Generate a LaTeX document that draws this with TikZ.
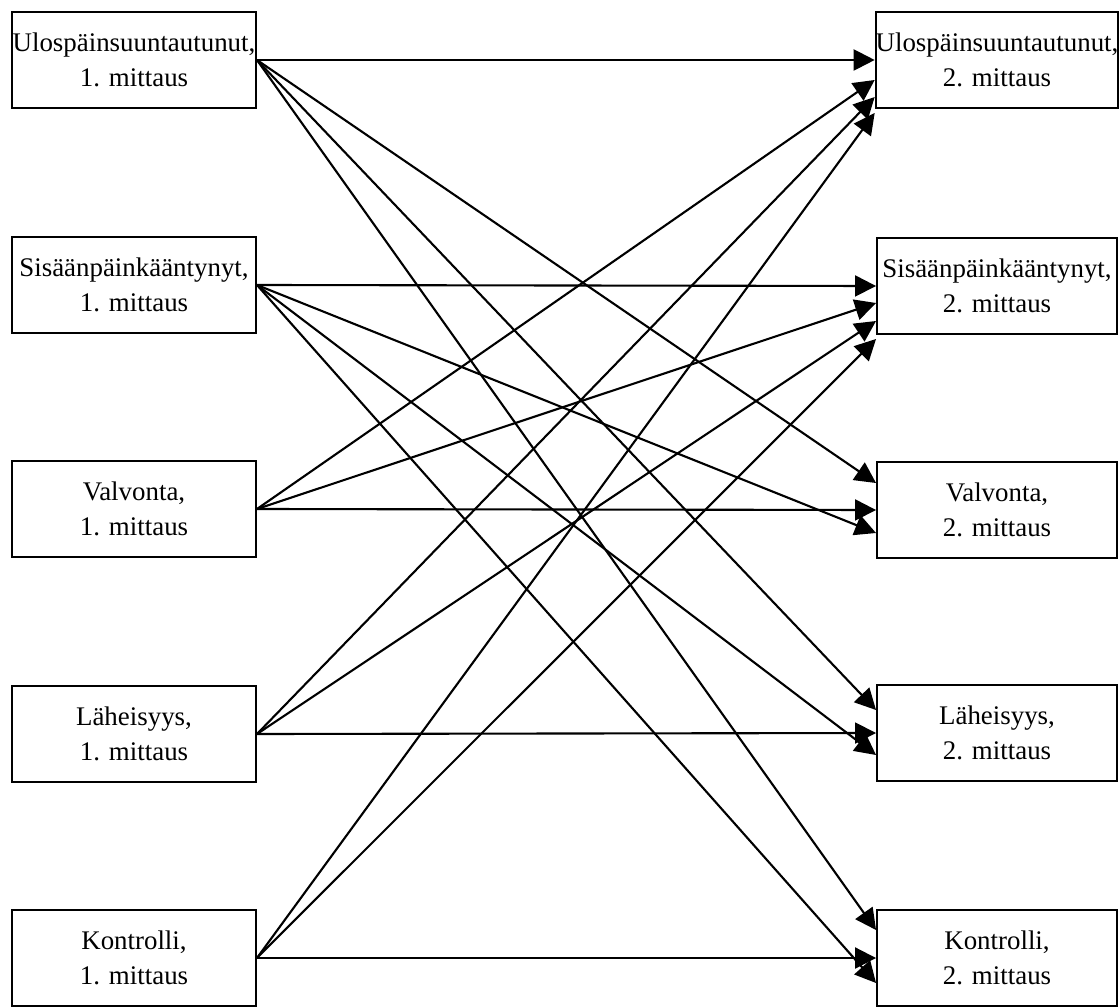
\documentclass[tikz,border=0pt]{standalone}
\usepackage{fontspec}
\setmainfont{Liberation Serif}
\usepackage{tikz}
\usetikzlibrary{arrows.meta}
\usetikzlibrary{positioning}

\tikzset{
  box/.style={draw, line width=1.1pt, inner sep=0pt, align=center,
    minimum height=1.92cm, font=\fontsize{15.3}{19.9}\selectfont},
  lbox/.style={box, minimum width=4.88cm},
  rbox/.style={box, minimum width=4.8cm},
  arr/.style={line width=1.2pt, -{Triangle[length=0.42cm,width=0.42cm]}}
}

\begin{document}
\begin{tikzpicture}
      \useasboundingbox (0,0) rectangle (22.38,-20.16);
      % first measurement
      \node[lbox] (ul1) at (2.68, -1.20) {Ulospäinsuuntautunut,\\1. mittaus};
      \node[lbox] (si1) at (2.68, -5.70) {Sisäänpäinkääntynyt,\\1. mittaus};
      \node[lbox] (va1) at (2.68, -10.18) {Valvonta,\\1. mittaus};
      \node[lbox] (la1) at (2.68, -14.68) {Läheisyys,\\1. mittaus};
      \node[lbox] (ko1) at (2.68, -19.16) {Kontrolli,\\1. mittaus};
      % second measurement
      \node[rbox] (ul2) at (19.94, -1.20) {Ulospäinsuuntautunut,\\2. mittaus};
      \node[rbox] (si2) at (19.94, -5.72) {Sisäänpäinkääntynyt,\\2. mittaus};
      \node[rbox] (va2) at (19.94, -10.20) {Valvonta,\\2. mittaus};
      \node[rbox] (la2) at (19.94, -14.66) {Läheisyys,\\2. mittaus};
      \node[rbox] (ko2) at (19.94, -19.16) {Kontrolli,\\2. mittaus};
      % paths
      \draw[arr] (ul1.east) -- (ul2.west);
      \draw[arr] (ul1.east) -- ([yshift=0.54cm]va2.west);
      \draw[arr] (ul1.east) -- ([yshift=0.46cm]la2.west);
      \draw[arr] (ul1.east) -- ([yshift=0.56cm]ko2.west);
      \draw[arr] (si1.east) -- (si2.west);
      \draw[arr] (si1.east) -- ([yshift=-0.46cm]va2.west);
      \draw[arr] (si1.east) -- ([yshift=-0.44cm]la2.west);
      \draw[arr] (si1.east) -- ([yshift=-0.50cm]ko2.west);
      \draw[arr] (va1.east) -- ([yshift=-0.40cm]ul2.west);
      \draw[arr] (va1.east) -- ([yshift=-0.34cm]si2.west);
      \draw[arr] (va1.east) -- (va2.west);
      \draw[arr] (la1.east) -- ([yshift=-0.74cm]ul2.west);
      \draw[arr] (la1.east) -- ([yshift=-0.70cm]si2.west);
      \draw[arr] (la1.east) -- (la2.west);
      \draw[arr] (ko1.east) -- ([yshift=-1.06cm]ul2.west);
      \draw[arr] (ko1.east) -- ([yshift=-1.06cm]si2.west);
      \draw[arr] (ko1.east) -- (ko2.west);
\end{tikzpicture}
\end{document}
